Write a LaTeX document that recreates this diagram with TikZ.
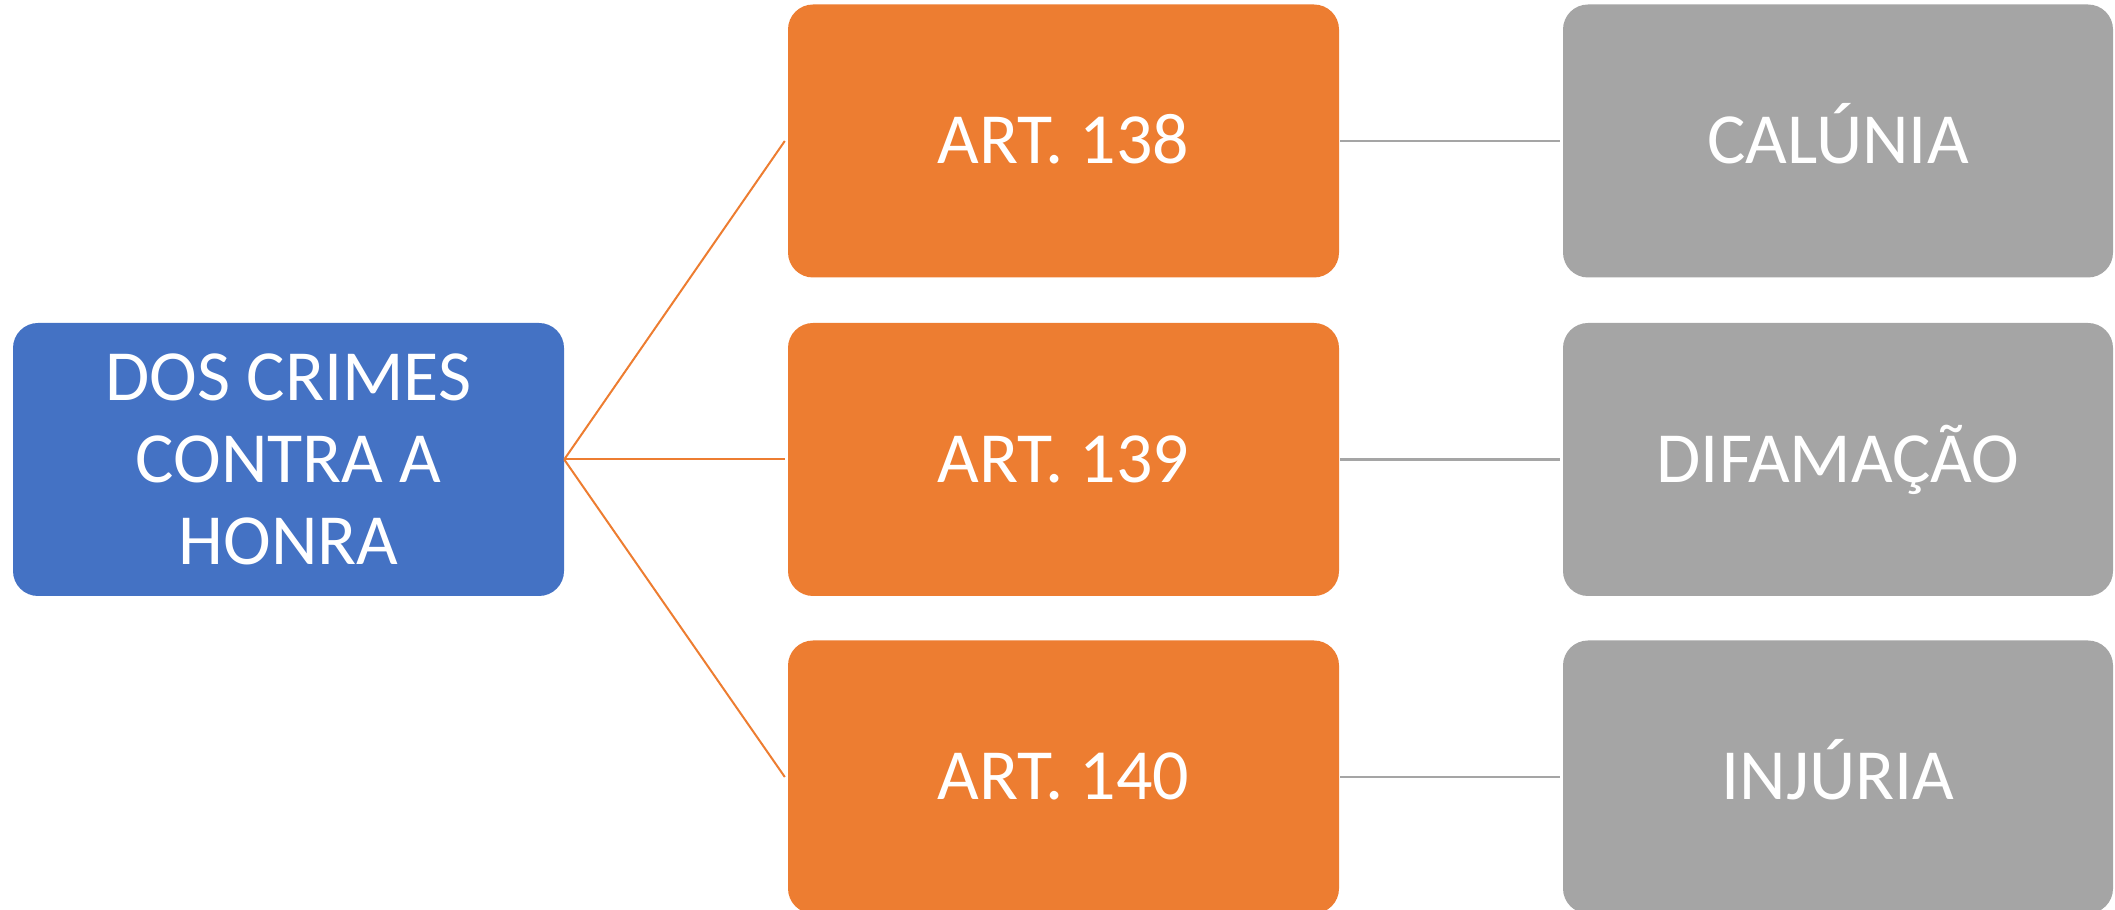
\documentclass[tikz,border=0pt]{standalone}
\usepackage{fontspec}
\setmainfont{Carlito}
\definecolor{cblue}{HTML}{4472C4}
\definecolor{corange}{HTML}{ED7D31}
\definecolor{cgray}{HTML}{A5A5A5}
\begin{document}
\begin{tikzpicture}[x=1pt,y=1pt,
  box/.style={rounded corners=25pt, minimum height=273pt, inner sep=0pt,
    text=white, font=\fontsize{72}{82}\selectfont, align=center},
  rootbox/.style={box, fill=cblue, minimum width=551pt},
  artbox/.style={box, fill=corange, minimum width=551pt, text height=46pt, text depth=0pt},
  crimebox/.style={box, fill=cgray, minimum width=550pt, text height=46pt, text depth=0pt},
  oline/.style={draw=corange, line width=2pt},
  gline/.style={draw=cgray, line width=2.7pt, shorten <=1pt, shorten >=3pt}]
\useasboundingbox (0,0) rectangle (2115,910);
\clip (0,0) rectangle (2115,910);
\node[rootbox] (root) at (288.5,450.5) {DOS CRIMES\\CONTRA A\\HONRA};
\node[artbox] (a1) at (1063.5,769) {ART. 138};
\node[artbox] (a2) at (1063.5,450.5) {ART. 139};
\node[artbox] (a3) at (1063.5,133) {ART. 140};
\node[crimebox] (c1) at (1838,769) {CALÚNIA};
\node[crimebox] (c2) at (1838,450.5) {DIFAMAÇÃO};
\node[crimebox] (c3) at (1838,133) {INJÚRIA};
\draw[oline] (root.east) -- ([xshift=-3pt]a1.west);
\draw[oline] (root.east) -- ([xshift=-3pt]a2.west);
\draw[oline] (root.east) -- ([xshift=-3pt]a3.west);
\draw[gline] (a1.east) -- (c1.west);
\draw[gline] (a2.east) -- (c2.west);
\draw[gline] (a3.east) -- (c3.west);
\end{tikzpicture}
\end{document}
